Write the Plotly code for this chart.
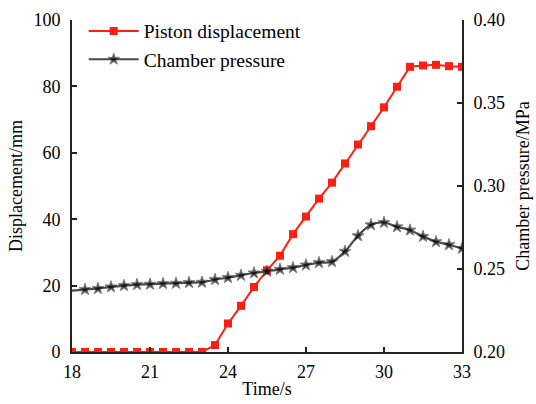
import plotly.graph_objects as go

# Piston displacement (mm)
t_disp = [18.0, 18.5, 19.0, 19.5, 20.0, 20.5, 21.0, 21.5, 22.0, 22.5, 23.0,
          23.5, 24.0, 24.5, 25.0, 25.5, 26.0, 26.5, 27.0, 27.5, 28.0,
          28.5, 29.0, 29.5, 30.0, 30.5, 31.0, 31.5, 32.0, 32.5, 33.0]
displacement = [0, 0, 0, 0, 0, 0, 0, 0, 0, 0, 0,
                2.1, 8.6, 13.9, 19.6, 24.6, 29.0, 35.5, 40.8, 46.2, 51.0,
                56.8, 62.5, 68.0, 73.7, 79.9, 85.9, 86.3, 86.5, 86.1, 85.9]

# Chamber pressure (MPa)
t_pres = [18.0, 18.5, 19.0, 19.5, 20.0, 20.5, 21.0, 21.5, 22.0, 22.5, 23.0,
          23.5, 24.0, 24.5, 25.0, 25.5, 26.0, 26.5, 27.0, 27.5, 28.0,
          28.5, 29.0, 29.5, 30.0, 30.5, 31.0, 31.5, 32.0, 32.5, 33.0]
pressure = [0.2370, 0.2376, 0.2382, 0.2392, 0.2400, 0.2406, 0.2408, 0.2412, 0.2414, 0.2418, 0.2420,
            0.2436, 0.2448, 0.2462, 0.2476, 0.2486, 0.2498, 0.2508, 0.2524, 0.2538, 0.2544,
            0.2606, 0.2700, 0.2766, 0.2780, 0.2754, 0.2734, 0.2696, 0.2664, 0.2646, 0.2624]
star_sizes = [0] + [9] * (len(t_pres) - 1)

x_ticks = [18, 21, 24, 27, 30, 33]
y_ticks = [0, 20, 40, 60, 80, 100]
y2_ticks = [0.20, 0.25, 0.30, 0.35, 0.40]

FONT = "Liberation Serif"
RED = "#ff1e14"

fig = go.Figure()
fig.add_trace(go.Scatter(
    x=t_disp, y=displacement, name="Piston displacement",
    mode="lines+markers",
    line=dict(color=RED, width=2),
    marker=dict(symbol="square", size=8, color=RED),
))
fig.add_trace(go.Scatter(
    x=t_pres, y=pressure, name="Chamber pressure", yaxis="y2",
    mode="lines+markers",
    line=dict(color="#4a4a4a", width=2.2, shape="spline"),
    marker=dict(symbol="star", size=star_sizes, color="black"),
))

axis_common = dict(
    showline=True, linecolor="#222222", linewidth=2, mirror=False,
    ticks="inside", ticklen=5, tickwidth=1.5, tickcolor="#222222",
    showgrid=False, zeroline=False, automargin=False,
    tickfont=dict(family=FONT, size=18, color="black"),
)

fig.update_layout(
    width=536, height=404,
    margin=dict(l=72, r=74, t=18, b=52),
    paper_bgcolor="white", plot_bgcolor="white",
    font=dict(family=FONT, size=18, color="black"),
    xaxis=dict(range=[18, 33], tickvals=x_ticks, ticklabelstandoff=2,
               title=dict(text="Time/s", font=dict(family=FONT, size=18), standoff=2),
               **axis_common),
    yaxis=dict(range=[0, 100], tickvals=y_ticks, ticklabelstandoff=6,
               title=dict(text="Displacement/mm", font=dict(family=FONT, size=18), standoff=6),
               **axis_common),
    yaxis2=dict(range=[0.20, 0.40], tickvals=y2_ticks, tickformat=".2f",
                overlaying="y", side="right", ticklabelstandoff=6,
                title=dict(text="Chamber pressure/MPa", font=dict(family=FONT, size=18), standoff=12),
                **axis_common),
    legend=dict(x=0.03, y=1.025, xanchor="left", yanchor="top",
                bgcolor="rgba(0,0,0,0)", borderwidth=0,
                font=dict(family=FONT, size=19.5, color="black"),
                itemwidth=50),
    showlegend=True,
)

fig.write_html("out.html")
